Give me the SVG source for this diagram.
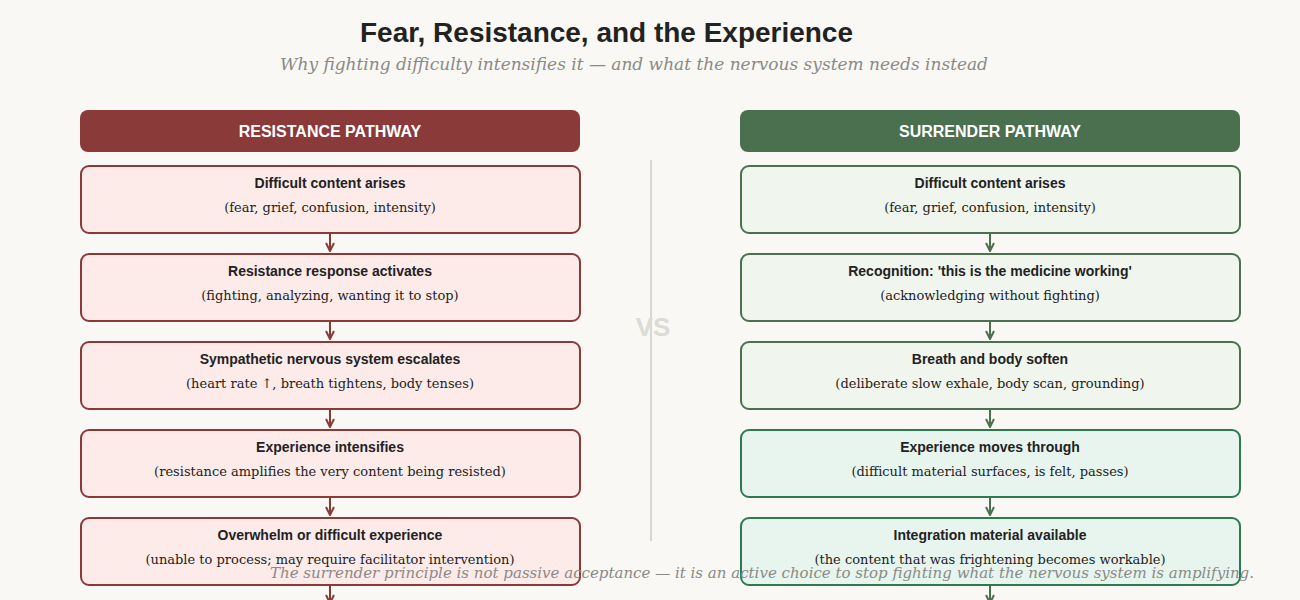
<svg xmlns="http://www.w3.org/2000/svg" width="1300" height="600" viewBox="0 0 1300 600">
<defs>
<style>
.bg{fill:#f9f8f4}
.title{font-family:"Liberation Sans",Arial,sans-serif;font-weight:bold;font-size:27px;fill:#222}
.sub{font-family:"DejaVu Serif","Liberation Serif",serif;font-style:italic;font-size:17px;fill:#8a8a86}
.foot{font-family:"DejaVu Serif","Liberation Serif",serif;font-style:italic;font-size:15px;fill:#8a8a86}
.hdr{font-family:"Liberation Sans",Arial,sans-serif;font-weight:bold;font-size:16px;fill:#ffffff}
.bt{font-family:"Liberation Sans",Arial,sans-serif;font-weight:bold;font-size:14px;fill:#222}
.bs{font-family:"DejaVu Serif","Liberation Serif",serif;font-size:13px;fill:#222}
.r{fill:#fdebea;stroke:#8b3a3a;stroke-width:2}
.g{fill:#f0f5ee;stroke:#4a7050;stroke-width:2}
.g2{fill:#e8f5ee;stroke:#2e7a50;stroke-width:2}
.cr{stroke:#8b3a3a;stroke-width:2;fill:none}
.cg{stroke:#4a7050;stroke-width:2;fill:none}
.vs{font-family:"Liberation Sans",Arial,sans-serif;font-weight:bold;font-size:26px;fill:#dcdbd5}
</style>
<marker id="ar" viewBox="0 0 10 10" refX="9" refY="5" markerWidth="10" markerHeight="10" markerUnits="userSpaceOnUse" orient="auto">
<path d="M1,1 L9,5 L1,9" fill="none" stroke="#8b3a3a" stroke-width="2"/>
</marker>
<marker id="ag" viewBox="0 0 10 10" refX="9" refY="5" markerWidth="10" markerHeight="10" markerUnits="userSpaceOnUse" orient="auto">
<path d="M1,1 L9,5 L1,9" fill="none" stroke="#4a7050" stroke-width="2"/>
</marker>
</defs>
<rect class="bg" x="0" y="0" width="1300" height="600"/>
<g id="titles">
<text class="title" x="360" y="42" textLength="493" lengthAdjust="spacingAndGlyphs">Fear, Resistance, and the Experience</text>
<text class="sub" x="280" y="70" textLength="708" lengthAdjust="spacingAndGlyphs">Why fighting difficulty intensifies it — and what the nervous system needs instead</text>
</g>
<g id="divider">
<line x1="651" y1="160" x2="651" y2="541" stroke="#d8d6d0" stroke-width="2"/>
<text class="vs" x="653" y="336" text-anchor="middle">VS</text>
</g>
<g id="connectors">
<line class="cr" x1="330" y1="233" x2="330" y2="251" marker-end="url(#ar)"/>
<line class="cr" x1="330" y1="321" x2="330" y2="339" marker-end="url(#ar)"/>
<line class="cr" x1="330" y1="409" x2="330" y2="427" marker-end="url(#ar)"/>
<line class="cr" x1="330" y1="497" x2="330" y2="515" marker-end="url(#ar)"/>
<line class="cr" x1="330" y1="585" x2="330" y2="603" marker-end="url(#ar)"/>
<line class="cg" x1="990" y1="233" x2="990" y2="251" marker-end="url(#ag)"/>
<line class="cg" x1="990" y1="321" x2="990" y2="339" marker-end="url(#ag)"/>
<line class="cg" x1="990" y1="409" x2="990" y2="427" marker-end="url(#ag)"/>
<line class="cg" x1="990" y1="497" x2="990" y2="515" marker-end="url(#ag)"/>
<line class="cg" x1="990" y1="585" x2="990" y2="603" marker-end="url(#ag)"/>
</g>
<g id="resistance-header">
<rect x="80" y="110" width="500" height="42" rx="8" fill="#8b3a3a"/>
<text class="hdr" x="330" y="137" text-anchor="middle">RESISTANCE PATHWAY</text>
</g>
<g id="surrender-header">
<rect x="740" y="110" width="500" height="42" rx="8" fill="#4a7050"/>
<text class="hdr" x="990" y="137" text-anchor="middle">SURRENDER PATHWAY</text>
</g>
<g id="r1">
<rect class="r" x="81" y="166" width="499" height="67" rx="8"/>
<text class="bt" x="330" y="188" text-anchor="middle">Difficult content arises</text>
<text class="bs" x="330" y="212" text-anchor="middle">(fear, grief, confusion, intensity)</text>
</g>
<g id="r2">
<rect class="r" x="81" y="254" width="499" height="67" rx="8"/>
<text class="bt" x="330" y="276" text-anchor="middle">Resistance response activates</text>
<text class="bs" x="330" y="300" text-anchor="middle">(fighting, analyzing, wanting it to stop)</text>
</g>
<g id="r3">
<rect class="r" x="81" y="342" width="499" height="67" rx="8"/>
<text class="bt" x="330" y="364" text-anchor="middle">Sympathetic nervous system escalates</text>
<text class="bs" x="330" y="388" text-anchor="middle">(heart rate ↑, breath tightens, body tenses)</text>
</g>
<g id="r4">
<rect class="r" x="81" y="430" width="499" height="67" rx="8"/>
<text class="bt" x="330" y="452" text-anchor="middle">Experience intensifies</text>
<text class="bs" x="330" y="476" text-anchor="middle">(resistance amplifies the very content being resisted)</text>
</g>
<g id="r5">
<rect class="r" x="81" y="518" width="499" height="67" rx="8"/>
<text class="bt" x="330" y="540" text-anchor="middle">Overwhelm or difficult experience</text>
<text class="bs" x="330" y="564" text-anchor="middle">(unable to process; may require facilitator intervention)</text>
</g>
<g id="s1">
<rect class="g" x="741" y="166" width="499" height="67" rx="8"/>
<text class="bt" x="990" y="188" text-anchor="middle">Difficult content arises</text>
<text class="bs" x="990" y="212" text-anchor="middle">(fear, grief, confusion, intensity)</text>
</g>
<g id="s2">
<rect class="g" x="741" y="254" width="499" height="67" rx="8"/>
<text class="bt" x="990" y="276" text-anchor="middle">Recognition: 'this is the medicine working'</text>
<text class="bs" x="990" y="300" text-anchor="middle">(acknowledging without fighting)</text>
</g>
<g id="s3">
<rect class="g" x="741" y="342" width="499" height="67" rx="8"/>
<text class="bt" x="990" y="364" text-anchor="middle">Breath and body soften</text>
<text class="bs" x="990" y="388" text-anchor="middle">(deliberate slow exhale, body scan, grounding)</text>
</g>
<g id="s4">
<rect class="g2" x="741" y="430" width="499" height="67" rx="8"/>
<text class="bt" x="990" y="452" text-anchor="middle">Experience moves through</text>
<text class="bs" x="990" y="476" text-anchor="middle">(difficult material surfaces, is felt, passes)</text>
</g>
<g id="s5">
<rect class="g2" x="741" y="518" width="499" height="67" rx="8"/>
<text class="bt" x="990" y="540" text-anchor="middle">Integration material available</text>
<text class="bs" x="990" y="564" text-anchor="middle">(the content that was frightening becomes workable)</text>
</g>
<g id="footer">
<text class="foot" x="270" y="578" textLength="984" lengthAdjust="spacingAndGlyphs">The surrender principle is not passive acceptance — it is an active choice to stop fighting what the nervous system is amplifying.</text>
</g>
</svg>
